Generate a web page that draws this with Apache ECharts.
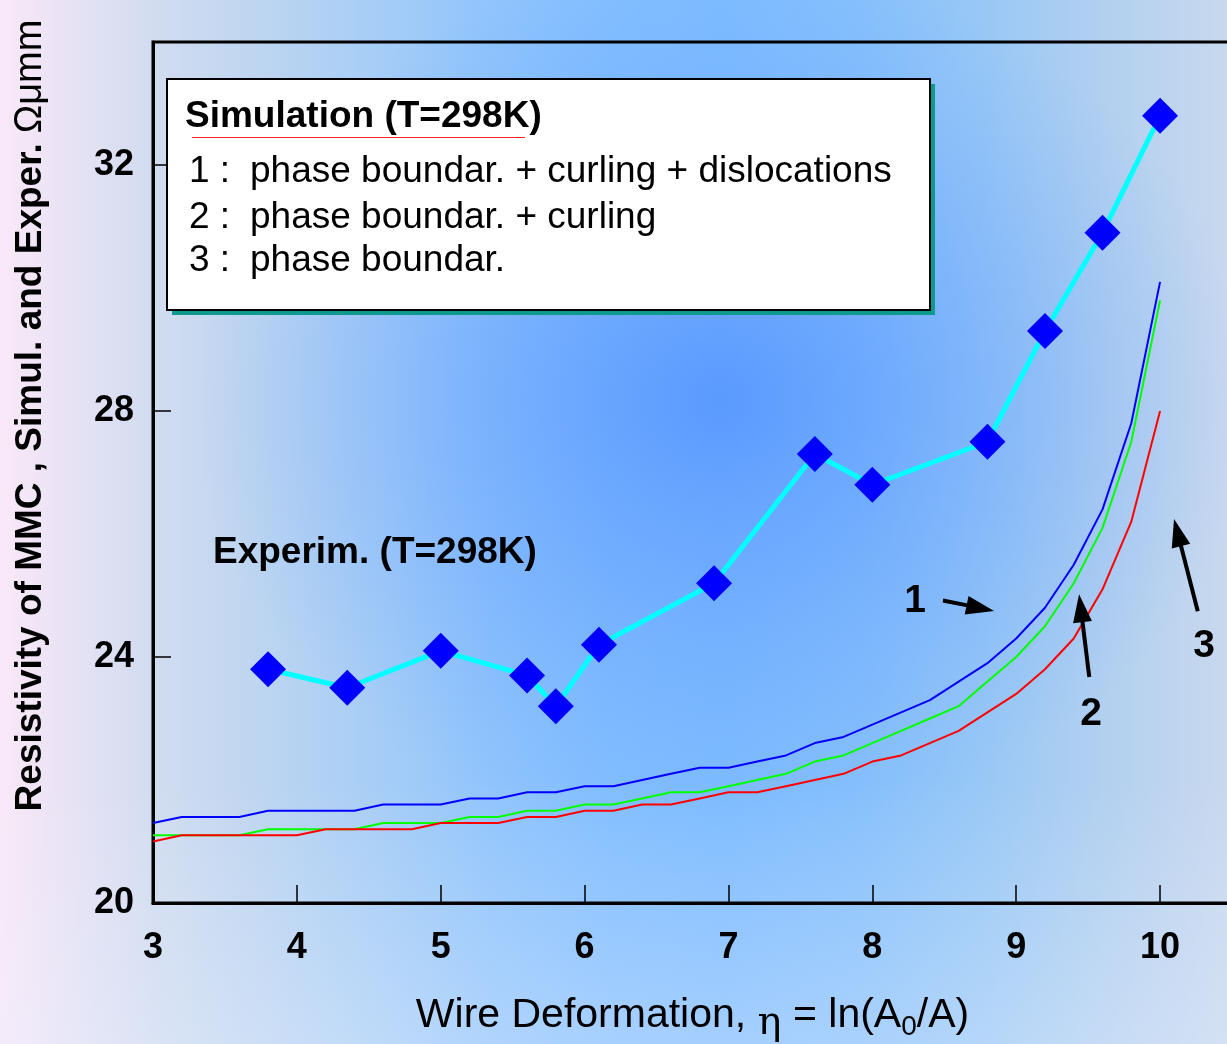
<!DOCTYPE html>
<html><head><meta charset="utf-8">
<script src="https://cdn.jsdelivr.net/npm/echarts@6/dist/echarts.min.js"></script>
<style>html,body{margin:0;padding:0;overflow:hidden;} #c{width:1227px;height:1044px;}</style>
</head><body><div id="c"></div>
<script>
// ---------- DATA ----------
const simX = [3.0,3.2,3.4,3.6,3.8,4.0,4.2,4.4,4.6,4.8,5.0,5.2,5.4,5.6,5.8,6.0,6.2,6.4,6.6,6.8,7.0,7.2,7.4,7.6,7.8,8.0,8.2,8.4,8.6,8.8,9.0,9.2,9.4,9.6,9.8,10.0];
// 1 : phase boundar. + curling + dislocations (blue)
const curve1 = [21.3,21.4,21.4,21.4,21.5,21.5,21.5,21.5,21.6,21.6,21.6,21.7,21.7,21.8,21.8,21.9,21.9,22.0,22.1,22.2,22.2,22.3,22.4,22.6,22.7,22.9,23.1,23.3,23.6,23.9,24.3,24.8,25.5,26.4,27.8,30.1];
// 2 : phase boundar. + curling (green)
const curve2 = [21.1,21.1,21.1,21.1,21.2,21.2,21.2,21.2,21.3,21.3,21.3,21.4,21.4,21.5,21.5,21.6,21.6,21.7,21.8,21.8,21.9,22.0,22.1,22.3,22.4,22.6,22.8,23.0,23.2,23.6,24.0,24.5,25.2,26.1,27.5,29.8];
// 3 : phase boundar. (red)
const curve3 = [21.0,21.1,21.1,21.1,21.1,21.1,21.2,21.2,21.2,21.2,21.3,21.3,21.3,21.4,21.4,21.5,21.5,21.6,21.6,21.7,21.8,21.8,21.9,22.0,22.1,22.3,22.4,22.6,22.8,23.1,23.4,23.8,24.3,25.1,26.2,28.0];
// Experimental (T=298K)
const expX = [3.8,4.35,5.0,5.6,5.8,6.1,6.9,7.6,8.0,8.8,9.2,9.6,10.0];
const expY = [23.8,23.5,24.1,23.7,23.2,24.2,25.2,27.3,26.8,27.5,29.3,30.9,32.8];
// tick labels
const xTicks = [3,4,5,6,7,8,9,10];
const yTicks = [20,24,28,32];
// texts
const legendTitle = 'Simulation (T=298K)';
const legendNums = ['1 :','2 :','3 :'];
const legendDesc = ['phase boundar. + curling + dislocations','phase boundar. + curling','phase boundar.'];
const noteLabels = ['Experim. (T=298K)','1','2','3'];

// ---------- LAYOUT (annotation anchors in data units) ----------
const noteAnchors = [[3.417,25.70],[8.297,24.90],[9.52,23.07],[10.306,24.17]];
const noteAlign = ['left','center','center','center'];
const arrowFrom = [[8.491,24.92],[9.508,23.675],[10.262,24.745]];
const arrowTo   = [[8.846,24.75],[9.437,25.02],[10.097,26.245]];

const FONT = '"Liberation Sans", Arial, Helvetica, sans-serif';
const zip = (a,b) => a.map((v,i)=>[v,b[i]]);

const chart = echarts.init(document.getElementById('c'), null, {renderer:'canvas'});

const option = {
  animation: false,
  backgroundColor: {
    type:'linear', x:0, y:0, x2:1, y2:0,
    colorStops:[
      {offset:0, color:'#FAE8F8'},
      {offset:0.06, color:'#E6E2F4'},
      {offset:0.125, color:'#D2DCF0'},
      {offset:0.2, color:'#C0D6F0'},
      {offset:0.3, color:'#A8CEF6'},
      {offset:0.4, color:'#90C4FC'},
      {offset:0.5, color:'#82BEFF'},
      {offset:0.59, color:'#7EBCFF'},
      {offset:0.7, color:'#86C0FC'},
      {offset:0.8, color:'#98C8F6'},
      {offset:0.9, color:'#B2D0F0'},
      {offset:1, color:'#C8D8EE'}
    ]
  },
  grid: {left:153, top:42, right:-5, bottom:141, show:true, borderColor:'#000', borderWidth:3,
    backgroundColor:'transparent', containLabel:false, outerBoundsMode:'none'},
  xAxis: {
    type:'value', min:3, max:10.5, interval:1,
    axisLine:{show:true, onZero:false, lineStyle:{color:'#000', width:3}},
    axisTick:{show:true, inside:true, length:18, lineStyle:{color:'#000', width:1.5}},
    splitLine:{show:false},
    axisLabel:{fontSize:36, fontWeight:'bold', color:'#000', margin:27, fontFamily:FONT,
      formatter: v => xTicks.includes(v) ? String(v) : ''},
    name:'Wire Deformation, {eta|η} = ln(A{sub|0}/A)',
    nameLocation:'middle', nameGap:85,
    nameTextStyle:{fontSize:41, color:'#000', fontFamily:FONT,
      rich:{
        eta:{fontSize:40, color:'#000', fontFamily:'"DejaVu Serif", serif', padding:[16,0,0,0]},
        sub:{fontSize:28, color:'#000', fontFamily:FONT, padding:[22,0,0,0]}
      }}
  },
  yAxis: {
    type:'value', min:20, max:34, interval:4,
    axisLine:{show:true, onZero:false, lineStyle:{color:'#000', width:3}},
    axisTick:{show:true, inside:true, length:18, lineStyle:{color:'#000', width:1.5}},
    splitLine:{show:false},
    axisLabel:{fontSize:36, fontWeight:'bold', color:'#000', margin:19, fontFamily:FONT,
      formatter: v => yTicks.includes(v) ? String(v) : ''},
    name:'{b|Resistivity of MMC , Simul. and Exper.}   {r|Ωμmm}',
    nameLocation:'middle', nameRotate:90, nameGap:103,
    nameTextStyle:{padding:[0,0,0,114],
      rich:{
        b:{fontSize:37, fontWeight:'bold', color:'#000', fontFamily:FONT},
        r:{fontSize:38, color:'#000', fontFamily:FONT}
      }}
  },
  series: [
    {name:'1', type:'line', data:zip(simX,curve1), showSymbol:false, symbol:'none', lineStyle:{color:'#0000FF', width:2}, z:3},
    {name:'2', type:'line', data:zip(simX,curve2), showSymbol:false, symbol:'none', lineStyle:{color:'#00FF00', width:2}, z:3},
    {name:'3', type:'line', data:zip(simX,curve3), showSymbol:false, symbol:'none', lineStyle:{color:'#FF0000', width:2}, z:3},
    {name:'Experim.', type:'line', data:zip(expX,expY), symbol:'diamond', symbolSize:36,
      itemStyle:{color:'#0000FF'}, lineStyle:{color:'#00FFFF', width:5}, z:5}
  ]
};
chart.setOption(option);

// ---------- graphics: background shading, legend box, annotations ----------
const g = [];
g.push({type:'circle', silent:true, z:-100, x:720, y:400, scaleX:1.2, scaleY:1.0,
  shape:{cx:0, cy:0, r:440},
  style:{fill:{type:'radial', x:0.5, y:0.5, r:0.5, colorStops:[
    {offset:0, color:'rgba(84,148,255,0.85)'},
    {offset:0.45, color:'rgba(96,156,255,0.45)'},
    {offset:1, color:'rgba(110,170,255,0)'}]}}});
g.push({type:'rect', silent:true, z:-99, shape:{x:0, y:780, width:1227, height:264},
  style:{fill:{type:'linear', x:0, y:0, x2:0, y2:1, colorStops:[
    {offset:0, color:'rgba(235,242,255,0)'},
    {offset:1, color:'rgba(235,242,255,0.35)'}]}}});

// legend box
g.push({type:'rect', z:50, shape:{x:172, y:84, width:763, height:231}, style:{fill:'#0E9A8E'}});
g.push({type:'rect', z:51, shape:{x:167, y:79, width:763, height:231}, style:{fill:'#FFFFFF', stroke:'#000', lineWidth:2}});
g.push({type:'text', z:52, x:185, y:117, style:{text:legendTitle, fill:'#000',
  font:'bold 37px '+FONT, align:'left', verticalAlign:'middle', textAlign:'left', textVerticalAlign:'middle'}});
g.push({type:'line', z:52, shape:{x1:192, y1:137.5, x2:525, y2:137.5}, style:{stroke:'#FF2020', lineWidth:1}});
const rowsY = [172, 218, 261];
legendNums.forEach((t,i)=>{
  g.push({type:'text', z:52, x:189, y:rowsY[i], style:{text:t, fill:'#000', font:'37px '+FONT,
    align:'left', verticalAlign:'middle', textAlign:'left', textVerticalAlign:'middle'}});
  g.push({type:'text', z:52, x:250, y:rowsY[i], style:{text:legendDesc[i], fill:'#000', font:'37px '+FONT,
    align:'left', verticalAlign:'middle', textAlign:'left', textVerticalAlign:'middle'}});
});

// annotation texts
noteLabels.forEach((t,i)=>{
  const p = chart.convertToPixel({gridIndex:0}, noteAnchors[i]);
  const sz = i===0 ? 37 : 39;
  g.push({type:'text', z:20, x:p[0], y:p[1], style:{text:t, fill:'#000', font:'bold '+sz+'px '+FONT,
    align:noteAlign[i], verticalAlign:'middle', textAlign:noteAlign[i], textVerticalAlign:'middle'}});
});
// arrows
arrowFrom.forEach((f,i)=>{
  const a = chart.convertToPixel({gridIndex:0}, f);
  const b = chart.convertToPixel({gridIndex:0}, arrowTo[i]);
  const dx = b[0]-a[0], dy = b[1]-a[1], L = Math.hypot(dx,dy);
  const ux = dx/L, uy = dy/L, nx = -uy, ny = ux;
  const hl = 28, hw = 9.5;
  const bx = b[0]-hl*ux, by = b[1]-hl*uy;
  g.push({type:'line', z:20, shape:{x1:a[0], y1:a[1], x2:bx+2*ux, y2:by+2*uy}, style:{stroke:'#000', lineWidth:4}});
  g.push({type:'polygon', z:20, shape:{points:[[b[0],b[1]],[bx+hw*nx,by+hw*ny],[bx-hw*nx,by-hw*ny]]}, style:{fill:'#000'}});
});
chart.setOption({graphic:{elements:g}});
</script>
</body></html>
